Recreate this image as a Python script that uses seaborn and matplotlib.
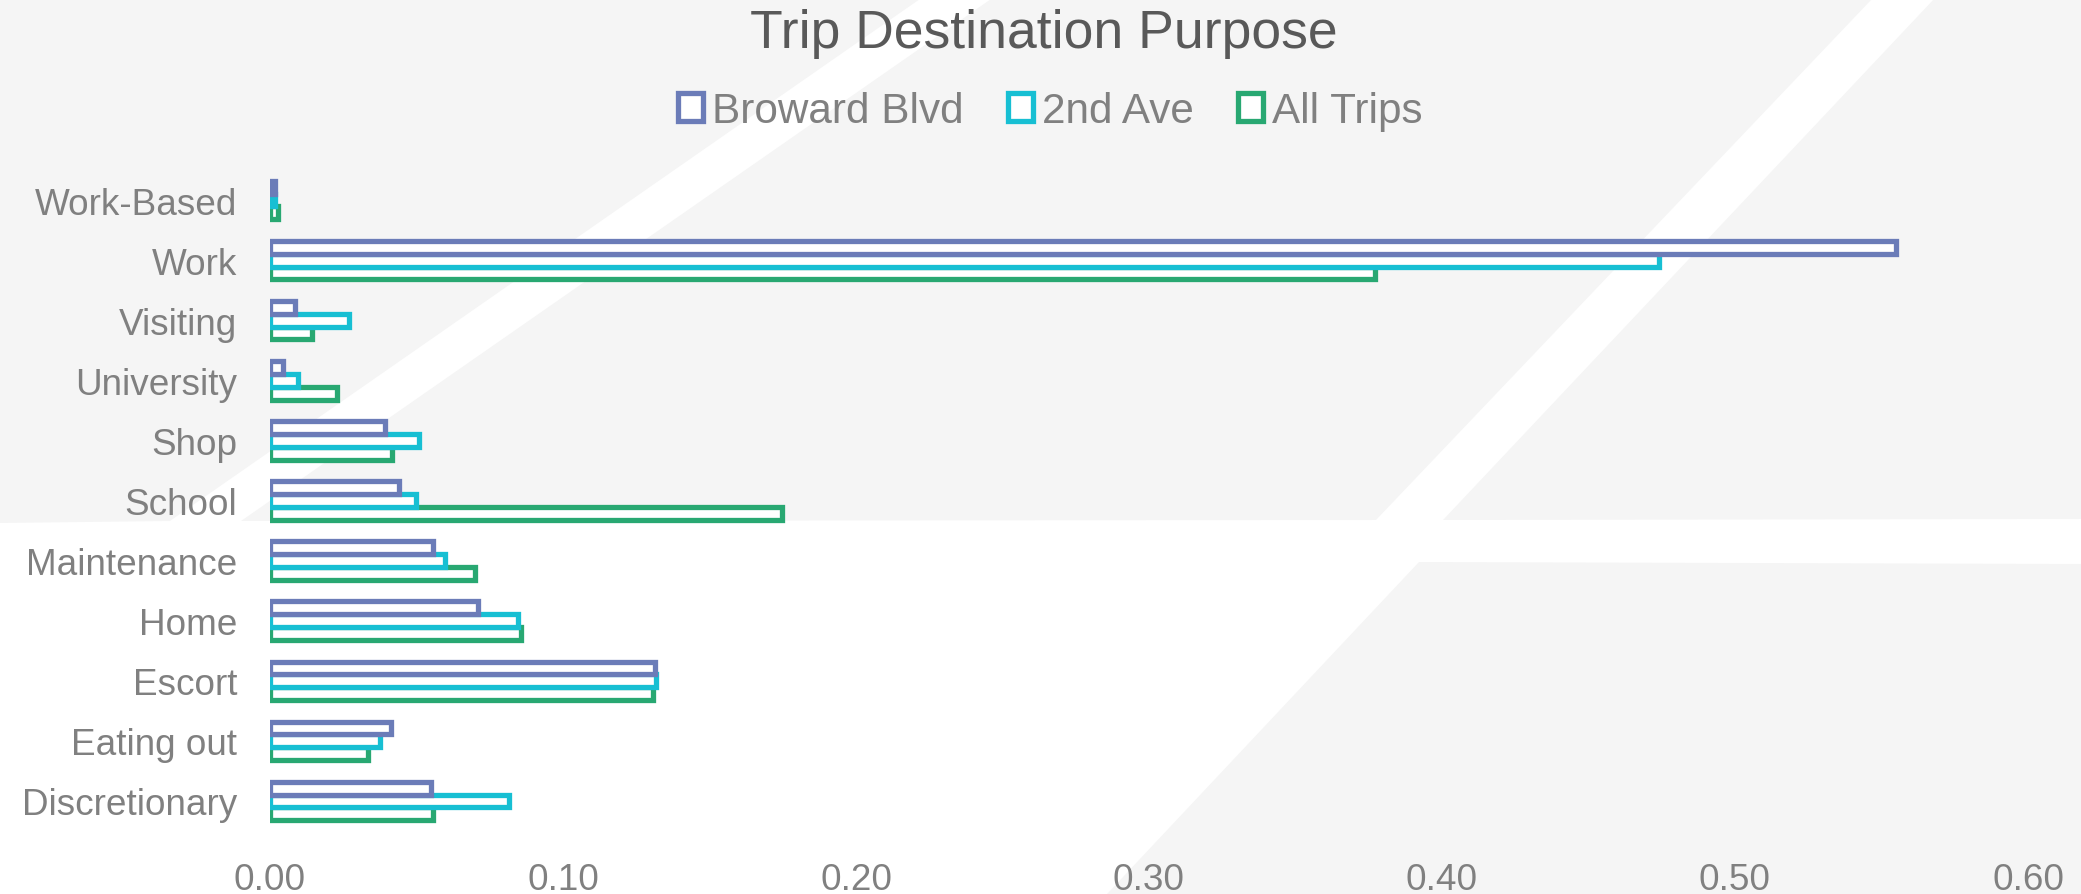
# %%
import pandas as pd
import matplotlib
matplotlib.use('Agg')
import matplotlib.pyplot as plt
from matplotlib.patches import Patch, Polygon
import seaborn as sns

# %%
# Trip destination purpose shares
purposes = ['Work-Based', 'Work', 'Visiting', 'University', 'Shop', 'School',
            'Maintenance', 'Home', 'Escort', 'Eating out', 'Discretionary']
broward_blvd = [0.0016, 0.555, 0.0086, 0.0045, 0.0394, 0.0441, 0.0558, 0.0711, 0.1315, 0.0413, 0.0550]
second_ave = [0.0016, 0.474, 0.0268, 0.0094, 0.0509, 0.0499, 0.0596, 0.0846, 0.1318, 0.0374, 0.0817]
all_trips = [0.0026, 0.377, 0.0142, 0.0228, 0.0417, 0.1748, 0.0701, 0.0855, 0.1307, 0.0334, 0.0558]
series_names = ['Broward Blvd', '2nd Ave', 'All Trips']
x_ticks = [0.0, 0.1, 0.2, 0.3, 0.4, 0.5, 0.6]

colors = ['#6b7cb8', '#17bfd3', '#28a872']

# %%
df = pd.DataFrame({'Purpose': purposes,
                   series_names[0]: broward_blvd,
                   series_names[1]: second_ave,
                   series_names[2]: all_trips})
df_melted = df.melt(id_vars='Purpose', value_vars=series_names,
                    var_name='Series', value_name='Share')

sns.set_style('white')
plt.rcParams['font.family'] = ['Liberation Sans', 'DejaVu Sans']

W, H = 2081, 895
fig = plt.figure(figsize=(W / 100, H / 100), dpi=100)
fig.patch.set_facecolor('white')

# background: light grey panels cut by white diagonal stripes
bg = fig.add_axes([0, 0, 1, 1], zorder=0)
bg.set_xlim(0, W)
bg.set_ylim(H, 0)
bg.axis('off')
grey = '#f5f5f5'
shapes = [
    [(0, 0), (920, 0), (170, 522), (0, 524)],
    [(991, 0), (1872, 0), (1376, 521), (241, 522)],
    [(1934, 0), (W, 0), (W, 520), (1443, 521)],
    [(1419, 563), (W, 565), (W, H), (1107, H)],
]
for pts in shapes:
    bg.add_patch(Polygon(pts, closed=True, facecolor=grey, edgecolor='none'))

# %%
ax = fig.add_axes([270 / W, 1 - 832 / H, (2028 - 270) / W, (832 - 171) / H], zorder=1)
ax.set_facecolor('none')
sns.barplot(data=df_melted, x='Share', y='Purpose', hue='Series', hue_order=series_names,
            order=purposes, palette=colors, width=0.64, legend=False, ax=ax)

# outlined bars with white inside, first series drawn on top
for i, (cont, c) in enumerate(zip(ax.containers, colors)):
    for bar in cont:
        bar.set_facecolor('white')
        bar.set_edgecolor(c)
        bar.set_linewidth(3.8)
        bar.set_joinstyle('miter')
        bar.set_zorder(3.3 - 0.1 * i)

ax.set_xlim(0, 0.6)
ax.set_ylim(len(purposes) - 0.5, -0.5)
ax.set_xticks(x_ticks)
ax.set_xticklabels([f'{t:.2f}' for t in x_ticks])
ax.set(xlabel=None, ylabel=None)
ax.tick_params(axis='x', length=0, pad=22.5, labelsize=26.6, labelcolor='#808080')
ax.tick_params(axis='y', length=0, pad=23.5, labelsize=26.6, labelcolor='#808080')
sns.despine(ax=ax, left=True, bottom=True)
ax.grid(False)

fig.text(1044 / W, 1 - 48 / H, 'Trip Destination Purpose', ha='center', va='baseline',
         fontsize=38.5, color='#595959')

handles = [Patch(facecolor='white', edgecolor=c, linewidth=3.8) for c in colors]
fig.legend(handles, series_names, loc='center', bbox_to_anchor=(1050 / W, 1 - 112 / H),
           ncol=3, frameon=False, fontsize=30.4, handlelength=0.6, handleheight=0.62,
           handletextpad=0.2, columnspacing=1.05, labelcolor='#808080')

fig.savefig('out.png', dpi=100)
